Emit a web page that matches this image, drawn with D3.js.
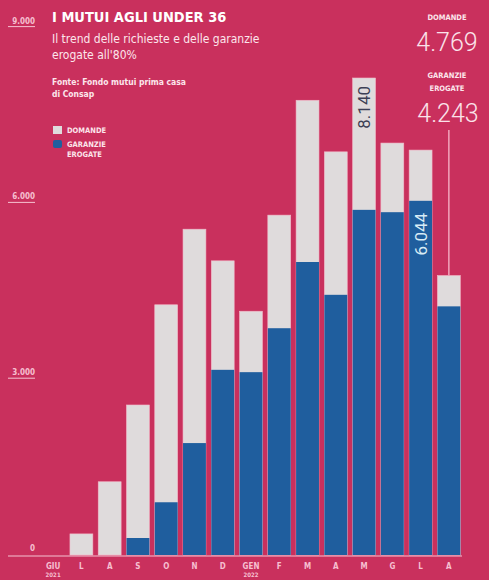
<!DOCTYPE html>
<html lang="it">
<head>
<meta charset="UTF-8">
<title>I mutui agli under 36</title>
<script src="https://d3js.org/d3.v7.min.js"></script>
<style>
    body { margin: 0; background: #c9305d; }
    svg { display: block; }
    text { fill: #fbe3ea; font-family: "Liberation Sans Narrow", "DejaVu Sans Condensed", Arial, sans-serif; }
    .title { font-size: 14.5px; font-weight: bold; fill: #fff; }
    .sub { font-size: 12px; fill: #fce6ec; }
    .src { font-size: 8.5px; font-weight: bold; fill: #fce6ec; }
    .small { font-size: 7.5px; font-weight: bold; fill: #fce6ec; }
    .big { font-family: Roboto, "DejaVu Sans", sans-serif; font-weight: 300; font-size: 25px; fill: #fbe3ea; }
    .tick-lbl { font-size: 8px; font-weight: bold; fill: #f6bfd0; }
</style>
</head>
<body>
<svg width="489" height="580"></svg>
<script>
// mesi (giugno 2021 - agosto 2022)
const months = ["2021-06","2021-07","2021-08","2021-09","2021-10","2021-11","2021-12",
                "2022-01","2022-02","2022-03","2022-04","2022-05","2022-06","2022-07","2022-08"];
const monthLabels = ["GIU","L","A","S","O","N","D","GEN","F","M","A","M","G","L","A"];
const yearLabels = {"2021-06": "2021", "2022-01": "2022"};
const domande  = [0, 360, 1250, 2560, 4270, 5560, 5020, 4160, 5800, 7760, 6880, 8140, 7030, 6910, 4769];
const garanzie = [0, 0, 0, 290, 900, 1910, 3160, 3120, 3870, 5000, 4440, 5890, 5850, 6044, 4243];
const yTicks = [0, 3000, 6000, 9000];

const fmt = d3.format(",");
const itNum = v => fmt(v).replace(/,/g, ".");

const svg = d3.select("svg");
const baseY = 555;

const x = d3.scaleBand()
    .domain(months)
    .range([39, 463])
    .paddingInner(0.19)
    .paddingOuter(0.095);

const y = d3.scaleLinear()
    .domain([0, 9000])
    .range([baseY, baseY - 9000 * 0.0586]);

const rows = months.map((m, i) => ({ m, dom: domande[i], gar: garanzie[i] }));

// barre domande (totale)
svg.append("g").selectAll("rect")
    .data(rows.filter(d => d.dom > 0))
    .join("rect")
    .attr("x", d => x(d.m))
    .attr("y", d => y(d.dom))
    .attr("width", x.bandwidth())
    .attr("height", d => y(0) - y(d.dom))
    .attr("fill", "#dfdbdc")
    .attr("stroke", "#f3b9c9")
    .attr("stroke-width", 0.6);

// barre garanzie erogate
svg.append("g").selectAll("rect")
    .data(rows.filter(d => d.gar > 0))
    .join("rect")
    .attr("x", d => x(d.m))
    .attr("y", d => y(d.gar))
    .attr("width", x.bandwidth())
    .attr("height", d => y(0) - y(d.gar))
    .attr("fill", "#1f5e9e");

// asse x
svg.append("line")
    .attr("x1", 8).attr("x2", 462)
    .attr("y1", baseY + 1).attr("y2", baseY + 1)
    .attr("stroke", "#f6c2d1")
    .attr("stroke-width", 1.2);

const xAxis = svg.append("g")
    .attr("transform", `translate(0,${baseY + 5})`)
    .call(d3.axisBottom(x).tickSize(0).tickFormat((d, i) => monthLabels[i]));
xAxis.select(".domain").remove();
xAxis.selectAll("text")
    .attr("class", "tick-lbl")
    .attr("dy", "0.7em");

svg.append("g").selectAll("text")
    .data(Object.keys(yearLabels))
    .join("text")
    .attr("class", "tick-lbl")
    .attr("x", d => x(d) + x.bandwidth() / 2)
    .attr("y", baseY + 22)
    .attr("text-anchor", "middle")
    .style("font-size", "6px")
    .text(d => yearLabels[d]);

// tacche asse y
const yg = svg.append("g");
yg.selectAll("text")
    .data(yTicks)
    .join("text")
    .attr("class", "tick-lbl")
    .attr("x", 35)
    .attr("y", d => y(d) - 4)
    .attr("text-anchor", "end")
    .text(d => itNum(d));
yg.selectAll("line")
    .data(yTicks.filter(d => d > 0))
    .join("line")
    .attr("x1", 8).attr("x2", 35)
    .attr("y1", d => y(d) - 1).attr("y2", d => y(d) - 1)
    .attr("stroke", "#f6c2d1")
    .attr("stroke-width", 1);

// etichette ruotate sulle barre
const maxDom = rows[d3.maxIndex(rows, d => d.dom)];
svg.append("text")
    .attr("transform", `translate(${x(maxDom.m) + x.bandwidth() / 2 + 6},${y(maxDom.dom) + 8}) rotate(-90)`)
    .attr("text-anchor", "end")
    .style("font-family", "Roboto, 'DejaVu Sans', sans-serif")
    .style("font-size", "17px")
    .style("fill", "#3c3f55")
    .text(itNum(maxDom.dom));

const maxGar = rows[d3.maxIndex(rows, d => d.gar)];
svg.append("text")
    .attr("transform", `translate(${x(maxGar.m) + x.bandwidth() / 2 + 6},${y(maxGar.gar) + 12}) rotate(-90)`)
    .attr("text-anchor", "end")
    .style("font-family", "Roboto, 'DejaVu Sans', sans-serif")
    .style("font-size", "17px")
    .style("fill", "#d8ecf6")
    .text(itNum(maxGar.gar));

// titolo
svg.append("text").attr("class", "title").attr("x", 52).attr("y", 22).text("I MUTUI AGLI UNDER 36");
svg.append("text").attr("class", "sub").attr("x", 52).attr("y", 43).text("Il trend delle richieste e delle garanzie");
svg.append("text").attr("class", "sub").attr("x", 52).attr("y", 59).text("erogate all'80%");
svg.append("text").attr("class", "src").attr("x", 52).attr("y", 85).text("Fonte: Fondo mutui prima casa");
svg.append("text").attr("class", "src").attr("x", 52).attr("y", 97).text("di Consap");

// legenda
svg.append("rect").attr("x", 53).attr("y", 126).attr("width", 9).attr("height", 8).attr("fill", "#dfdbdc");
svg.append("text").attr("class", "small").attr("x", 67).attr("y", 133).text("DOMANDE");
svg.append("rect").attr("x", 53).attr("y", 140).attr("width", 9).attr("height", 8).attr("rx", 2).attr("fill", "#1f5e9e");
svg.append("text").attr("class", "small").attr("x", 67).attr("y", 147).text("GARANZIE");
svg.append("text").attr("class", "small").attr("x", 67).attr("y", 157).text("EROGATE");

// annotazione ultimo mese
const last = rows[rows.length - 1];
const cx = x(last.m) + x.bandwidth() / 2;
svg.append("text").attr("class", "small").attr("x", 447).attr("y", 20).attr("text-anchor", "middle").text("DOMANDE");
svg.append("text").attr("class", "big").attr("x", 447).attr("y", 51).attr("text-anchor", "middle").text(itNum(last.dom));
svg.append("text").attr("class", "small").attr("x", 447).attr("y", 78).attr("text-anchor", "middle").text("GARANZIE");
svg.append("text").attr("class", "small").attr("x", 447).attr("y", 91).attr("text-anchor", "middle").text("EROGATE");
svg.append("text").attr("class", "big").attr("x", 448).attr("y", 122).attr("text-anchor", "middle").text(itNum(last.gar));
svg.append("line")
    .attr("x1", cx).attr("x2", cx)
    .attr("y1", 130).attr("y2", y(last.dom))
    .attr("stroke", "#f2a6bd")
    .attr("stroke-width", 1.5);
</script>
</body>
</html>
